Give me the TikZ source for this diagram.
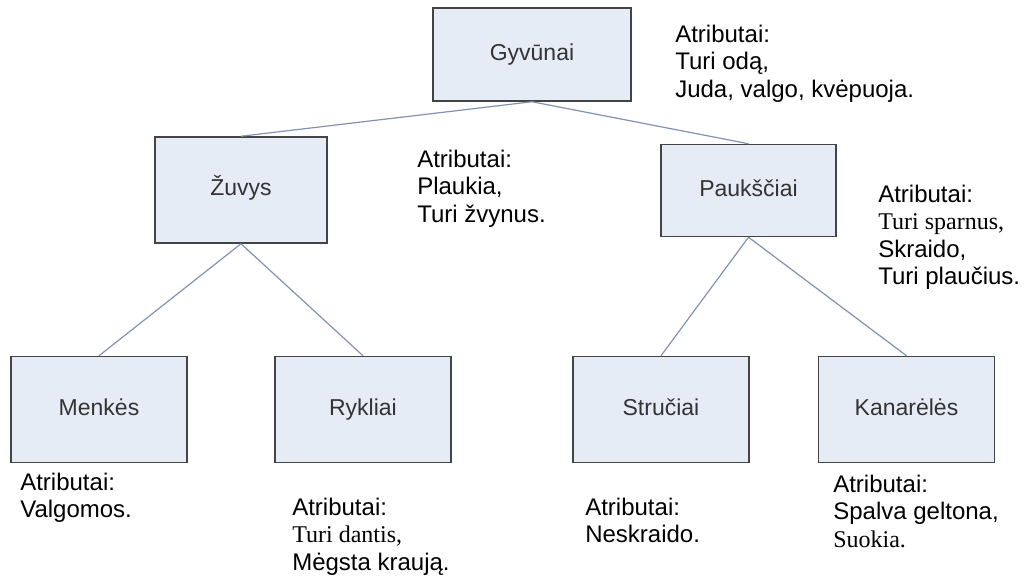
\documentclass[tikz,border=0pt]{standalone}
\usepackage{fontspec}
\setmainfont{Liberation Sans}
\newfontfamily\timesfont{Liberation Serif}
\usetikzlibrary{positioning}

\definecolor{boxfill}{HTML}{E6ECF6}
\definecolor{boxline}{HTML}{444444}
\definecolor{boxtext}{HTML}{333333}
\definecolor{linkline}{HTML}{8391B2}

\begin{document}
\begin{tikzpicture}[
            x = 1pt, y = -1pt, % pixel like units, y grows downwards
            semithick % line style
        ]

        \tikzstyle{class}=[
            draw = boxline,
            line width = 1.5pt,
            fill = boxfill,
            text = boxtext,
            inner sep = 0pt,
            text height = 16.5pt,
            text depth = 5pt,
            minimum width = 176pt,
            minimum height = 106pt,
            font = \fontsize{23}{27}\selectfont
        ]
        \tikzstyle{attrs}=[
            anchor = north west,
            align = left,
            inner sep = 0pt,
            font = \fontsize{24}{27.5}\selectfont
        ]
        \tikzstyle{link}=[
            draw = linkline,
            line width = 1.2pt
        ]

        \useasboundingbox (0,0) rectangle (1029,578);

        % classes
        \node[class, minimum width = 198pt, minimum height = 93pt] (gyv) at (532,54.5) {Gyvūnai};
        \node[class, minimum width = 172pt] (zuv) at (241,190) {Žuvys};
        \node[class, minimum width = 175pt, minimum height = 92pt] (pauk) at (748.5,190.5) {Paukščiai};
        \node[class] (menk) at (99,409.5) {Menkės};
        \node[class] (rykl) at (363,409.5) {Rykliai};
        \node[class] (stru) at (661,409.5) {Stručiai};
        \node[class] (kan) at (906.5,409.5) {Kanarėlės};

        % attributes
        \node[attrs] (gyv-a) at (675,24.5) {Atributai:\\Turi odą,\\Juda, valgo, kvėpuoja.};
        \node[attrs] (zuv-a) at (417,149.5) {Atributai:\\Plaukia,\\Turi žvynus.};
        \node[attrs] (pauk-a) at (878,184.5) {Atributai:\\{\timesfont Turi sparnus,}\\Skraido,\\Turi plaučius.};
        \node[attrs] (menk-a) at (20,472.5) {Atributai:\\Valgomos.};
        \node[attrs] (rykl-a) at (292,497.5) {Atributai:\\{\timesfont Turi dantis,}\\Mėgsta kraują.};
        \node[attrs] (stru-a) at (585,497.5) {Atributai:\\Neskraido.};
        \node[attrs] (kan-a) at (833,474.5) {Atributai:\\Spalva geltona,\\{\timesfont Suokia.}};

        % links
        \draw[link] (gyv.south) edge (zuv.north) edge (pauk.north);
        \draw[link] (zuv.south) edge (menk.north) edge (rykl.north);
        \draw[link] (pauk.south) edge (stru.north) edge (kan.north);

  \end{tikzpicture}
\end{document}
